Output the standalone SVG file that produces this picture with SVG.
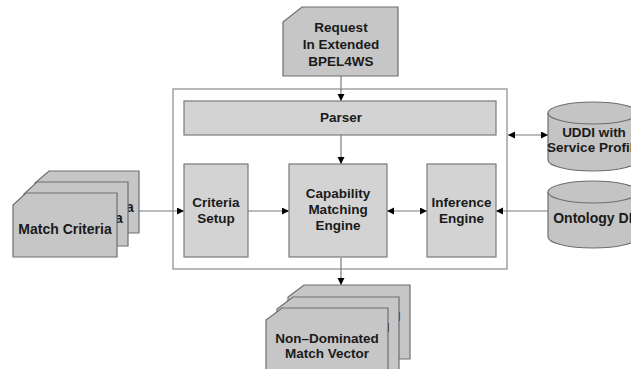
<svg xmlns="http://www.w3.org/2000/svg" width="631" height="369" viewBox="0 0 631 369">
<defs>
<style>
.t{font-family:"Liberation Sans",Arial,sans-serif;font-weight:bold;font-size:13.5px;fill:#1a1a1a;text-anchor:middle}
.big{font-size:14px}
.box{fill:#d3d3d3;stroke:#7a7a7a;stroke-width:1.2}
.card{fill:#c6c6c6;stroke:#6e6e6e;stroke-width:1.2}
.cyl{fill:#c4c4c4;stroke:#6e6e6e;stroke-width:1.2}
.ln{stroke:#7a7a7a;stroke-width:1.2;fill:none}
</style>
<marker id="ah" markerWidth="8" markerHeight="8" refX="7" refY="3.5" orient="auto-start-reverse" markerUnits="userSpaceOnUse">
<path d="M0,0 L7,3.5 L0,7 Z" fill="#000"/>
</marker>
</defs>
<rect width="631" height="369" fill="#fff"/>

<g id="container"><rect x="173" y="89" width="334" height="180" fill="#fff" stroke="#8a8a8a" stroke-width="1.2"/></g>

<g id="connectors">
<line class="ln" x1="341" y1="76" x2="341" y2="101" marker-end="url(#ah)"/>
<line class="ln" x1="341" y1="135" x2="341" y2="164" marker-end="url(#ah)"/>
<line class="ln" x1="341" y1="258" x2="341" y2="285" marker-end="url(#ah)"/>
<line class="ln" x1="139" y1="211" x2="184" y2="211" marker-end="url(#ah)"/>
<line class="ln" x1="248" y1="211" x2="289" y2="211" marker-end="url(#ah)"/>
<line class="ln" x1="387" y1="211" x2="427" y2="211" marker-start="url(#ah)" marker-end="url(#ah)"/>
<line class="ln" x1="548" y1="211" x2="496" y2="211" marker-end="url(#ah)"/>
<line class="ln" x1="508" y1="135" x2="548" y2="135" marker-start="url(#ah)" marker-end="url(#ah)"/>
</g>

<g id="request">
<path class="card" d="M302,7 L398,7 L398,76 L283,76 L283,22 Z"/>
<text class="t" x="341" y="32">Request</text>
<text class="t" x="341" y="49">In Extended</text>
<text class="t" x="341" y="66">BPEL4WS</text>
</g>

<g id="parser">
<rect class="box" x="184" y="101" width="312" height="34"/>
<text class="t" x="341" y="122">Parser</text>
</g>

<g id="criteria-setup">
<rect class="box" x="184" y="164" width="64" height="93"/>
<text class="t" x="216" y="207">Criteria</text>
<text class="t" x="216" y="223">Setup</text>
</g>

<g id="capability">
<rect class="box" x="289" y="164" width="98" height="93"/>
<text class="t" x="338" y="198">Capability</text>
<text class="t" x="338" y="214">Matching</text>
<text class="t" x="338" y="230">Engine</text>
</g>

<g id="inference">
<rect class="box" x="427" y="164" width="69" height="93"/>
<text class="t" x="461.5" y="207">Inference</text>
<text class="t" x="461.5" y="223">Engine</text>
</g>

<g id="uddi">
<path class="cyl" d="M548,113 L548,160 A45,11 0 0 0 638,160 L638,113"/>
<ellipse class="cyl" cx="593" cy="113" rx="45" ry="11"/>
<text class="t" x="594" y="137">UDDI with</text>
<text class="t" x="594" y="152">Service Profile</text>
</g>

<g id="ontology">
<path class="cyl" d="M548,192 L548,237 A45,11 0 0 0 638,237 L638,192"/>
<ellipse class="cyl" cx="593" cy="192" rx="45" ry="11"/>
<text class="t big" x="596" y="223">Ontology DB</text>
</g>

<g id="match-criteria">
<path class="card" d="M49,171 L139,171 L139,233 L35,233 L35,183 Z"/>
<text class="t big" x="87" y="212">Match Criteria</text>
<path class="card" d="M37,182 L128,182 L128,246 L24,246 L24,194 Z"/>
<text class="t big" x="76" y="223">Match Criteria</text>
<path class="card" d="M26,193 L117,193 L117,257 L13,257 L13,205 Z"/>
<text class="t big" x="65" y="234">Match Criteria</text>
</g>

<g id="non-dominated">
<path class="card" d="M304,285 L410,285 L410,359 L288,359 L288,297 Z"/>
<text class="t" x="349" y="321">Non–Dominated</text>
<text class="t" x="349" y="335">Match Vector</text>
<path class="card" d="M293,297 L399,297 L399,371 L277,371 L277,309 Z"/>
<text class="t" x="338" y="332">Non–Dominated</text>
<text class="t" x="338" y="346">Match Vector</text>
<path class="card" d="M282,308 L388,308 L388,382 L266,382 L266,320 Z"/>
<text class="t" x="327" y="343">Non–Dominated</text>
<text class="t" x="327" y="358">Match Vector</text>
</g>
</svg>
